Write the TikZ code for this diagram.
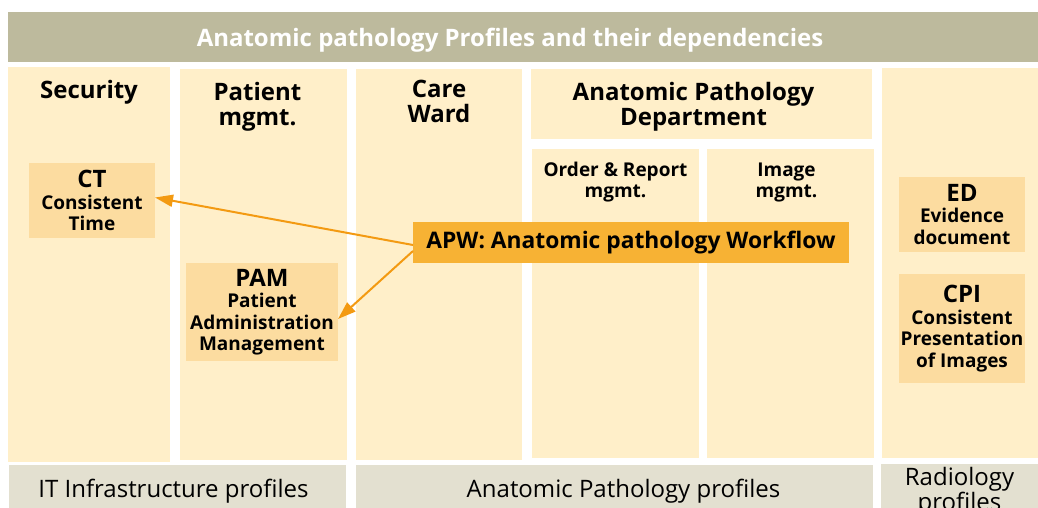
\documentclass[tikz,border=0pt]{standalone}
\usepackage{fontspec}
\setmainfont{Open Sans}
\usetikzlibrary{arrows.meta}

\definecolor{titlebar}{RGB}{189,186,157}
\definecolor{lanefill}{RGB}{255,239,201}
\definecolor{proffill}{RGB}{252,220,160}
\definecolor{workflow}{RGB}{247,178,52}
\definecolor{depend}{RGB}{243,154,18}
\definecolor{footbar}{RGB}{227,224,208}

\begin{document}
\begin{tikzpicture}[
        x                       = 1pt,
        y                       = -1pt,
        every node/.style       = {anchor=north west, inner sep=0pt, outer sep=0pt},
        lane/.style             = {fill=lanefill},
        ttl/.style              = {anchor=center, text=white, font=\bfseries\fontsize{24}{26}\selectfont},
        hdr/.style              = {anchor=north, align=center, font=\bfseries\fontsize{24}{25}\selectfont},
        subhdr/.style           = {anchor=north, align=center, font=\bfseries\fontsize{19}{21}\selectfont},
        prof/.style             = {fill=proffill, align=center, font=\bfseries\fontsize{19}{21.5}\selectfont},
        big/.style              = {font=\bfseries\fontsize{22.8}{26}\selectfont},
        foot/.style             = {fill=footbar, align=center, font=\fontsize{24}{24}\selectfont},
        foottxt/.style          = {anchor=center, font=\fontsize{24}{24}\selectfont},
        dep/.style              = {draw=depend, line width=2pt, -{Triangle[length=18pt, width=12pt]}},
      ]
        \path[use as bounding box, fill=white] (0,0) rectangle (1038,508);

        % title bar
        \node[fill=titlebar, minimum width=1030, minimum height=50,
              label={[ttl, xshift=-13pt, yshift=-3pt]center:Anatomic pathology Profiles and their dependencies}] (title) at (8,12) {};

        % domain lanes
        \node[lane, minimum width=162, minimum height=395,
              label={[hdr, yshift=-13pt]north:Security}] (security) at (8,67) {};
        \node[lane, minimum width=167, minimum height=391,
              label={[hdr, xshift=-6pt, yshift=-13pt]north:Patient\\mgmt.}] (patient) at (180,69) {};
        \node[lane, minimum width=166, minimum height=391,
              label={[hdr, yshift=-11pt]north:Care\\Ward}] (care) at (356,69) {};
        \node[lane, minimum width=341, minimum height=70,
              label={[hdr, xshift=-8pt, yshift=-13pt]north:Anatomic Pathology\\Department}] (apdept) at (531,69) {};
        \node[lane, minimum width=167, minimum height=309,
              label={[subhdr, yshift=-13pt]north:Order \& Report\\mgmt.}] (order) at (532,149) {};
        \node[lane, minimum width=167, minimum height=309,
              label={[subhdr, xshift=-4pt, yshift=-14pt]north:Image\\mgmt.}] (image) at (707,149) {};
        \node[lane, minimum width=156, minimum height=390] (radiology) at (882,68) {};

        % profiles
        \node[prof, minimum width=126, minimum height=75] (ct) at (29,163)
            {{\fontsize{24}{24}\selectfont CT}\\Consistent\\Time};
        \node[prof, minimum width=152, minimum height=98] (pam) at (186,263)
            {{\fontsize{24}{24}\selectfont PAM}\\Patient\\Administration\\Management};
        \node[prof, minimum width=126, minimum height=75] (ed) at (899,177)
            {{\fontsize{24}{24}\selectfont ED}\\Evidence\\document};
        \node[prof, minimum width=126, minimum height=109] (cpi) at (899,274)
            {{\fontsize{24}{24}\selectfont CPI}\\Consistent\\Presentation\\of Images};
        \node[fill=workflow, big, minimum width=436, minimum height=41] (apw) at (413,222)
            {APW: Anatomic pathology Workflow};

        % dependencies
        \draw[dep] ([yshift=-2.5pt]apw.west) -- ([yshift=3pt]ct.east);
        \draw[dep] ([yshift=-8.5pt]apw.west) -- ([yshift=-7pt]pam.east);

        % profile groups
        \node[foot, minimum width=337, minimum height=52,
              label={[foottxt, xshift=-4pt]center:IT Infrastructure profiles}] (itfoot) at (9,465) {};
        \node[foot, minimum width=517, minimum height=52,
              label={[foottxt, xshift=9pt]center:Anatomic Pathology profiles}] (apfoot) at (356,465) {};
        \node[foot, minimum width=157, minimum height=55] (radfoot) at (881,464) {Radiology\\profiles};
    \end{tikzpicture}
\end{document}
